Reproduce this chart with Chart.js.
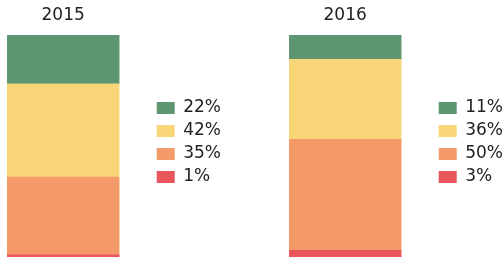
<!DOCTYPE html>
<html>
<head>
<meta charset="utf-8">
<script src="https://cdn.jsdelivr.net/npm/chart.js@4/dist/chart.umd.min.js"></script>
<style>
    html, body { margin: 0; padding: 0; background: #ffffff; }
    #wrap { position: relative; width: 504px; height: 257px; overflow: hidden; }
    canvas { position: absolute; top: 0; }
</style>
</head>
<body>
<div id="wrap">
    <canvas id="chart-2015" width="233" height="257" style="left:0px"></canvas>
    <canvas id="chart-2016" width="233" height="257" style="left:282px"></canvas>
</div>
<script>
// data, bottom segment first
const years = ['2015', '2016'];
const values2015 = [1, 35, 42, 22];
const values2016 = [3, 50, 36, 11];
const segmentColors = ['#e8565c', '#f49a69', '#f8d677', '#5f9672'];

const fontFamily = '"DejaVu Sans", sans-serif';
const textColor = '#222222';

function makeChart(canvasId, year, values) {
    const ctx = document.getElementById(canvasId).getContext('2d');
    // one dataset per segment so the legend gets one entry each
    const datasets = values.map((v, i) => ({
        label: v + '%',
        data: [{ x: 0, y: v }],
        backgroundColor: segmentColors[i],
        borderWidth: 0,
        barThickness: 112
    }));

    return new Chart(ctx, {
        type: 'bar',
        data: {
            datasets: datasets
        },
        options: {
            responsive: false,
            animation: false,
            layout: {
                padding: { left: 7, right: 2, top: 0, bottom: 0 }
            },
            scales: {
                // linear x so the bar sits at the left of the plot, leaving a gap before the legend
                // the year is the only tick, drawn above the bar
                x: {
                    type: 'linear',
                    position: 'top',
                    stacked: true,
                    offset: false,
                    min: -0.5,
                    max: 0.78,
                    afterBuildTicks: (scale) => { scale.ticks = [{ value: 0 }]; },
                    afterFit: (scale) => {
                        scale.height = 35;
                        scale.paddingLeft = 0;
                        scale.paddingRight = 0;
                    },
                    ticks: {
                        callback: () => year,
                        maxRotation: 0,
                        padding: 9,
                        color: textColor,
                        font: { family: fontFamily, size: 17 }
                    },
                    grid: { display: false, drawTicks: false },
                    border: { display: false }
                },
                y: {
                    stacked: true,
                    display: false,
                    min: 0,
                    max: 100
                }
            },
            plugins: {
                legend: {
                    position: 'right',
                    align: 'center',
                    reverse: true,
                    // empty title just nudges the items to the right height
                    title: {
                        display: true,
                        text: '',
                        font: { size: 10 },
                        padding: 8
                    },
                    labels: {
                        boxWidth: 18,
                        boxHeight: 12,
                        padding: 6,
                        color: textColor,
                        font: { family: fontFamily, size: 17 }
                    }
                },
                tooltip: { enabled: false }
            }
        }
    });
}

makeChart('chart-2015', years[0], values2015);
makeChart('chart-2016', years[1], values2016);
</script>
</body>
</html>
